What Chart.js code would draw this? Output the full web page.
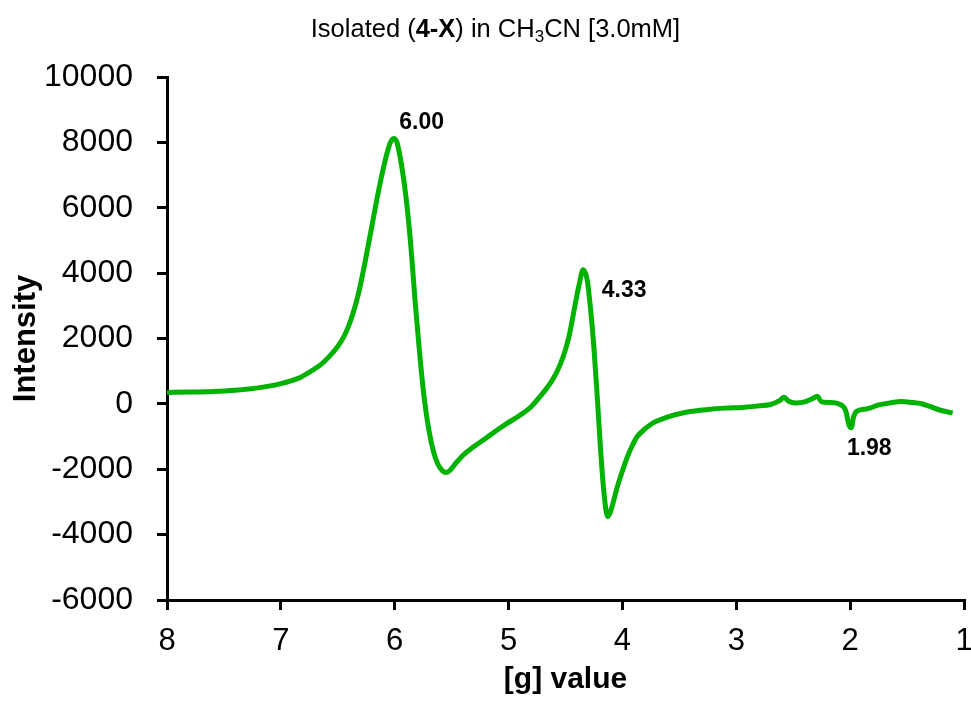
<!DOCTYPE html>
<html>
<head>
<meta charset="utf-8">
<script src="https://cdn.jsdelivr.net/npm/chart.js@4/dist/chart.umd.min.js"></script>
<style>
  html, body { margin: 0; padding: 0; background: #fff; }
  #wrap { position: relative; width: 971px; height: 702px; }
  #title {
    position: absolute; left: 10px; top: 13px; width: 971px;
    text-align: center; font-family: "Liberation Sans", Arial, sans-serif;
    font-size: 25.5px; color: #000; line-height: 30px;
  }
  #title sub { font-size: 17px; vertical-align: -5px; line-height: 0; }
  canvas { position: absolute; left: 0; top: 0; }
</style>
</head>
<body>
<div id="wrap">
  <canvas id="epr" width="971" height="702"></canvas>
  <div id="title">Isolated (<b>4-X</b>) in CH<sub>3</sub>CN [3.0mM]</div>
</div>
<script>
// g value (x) and intensity (y)
var gValues = [
  8.00, 7.80, 7.60, 7.40, 7.20, 7.00, 6.85, 6.74, 6.65, 6.58,
  6.50, 6.44, 6.38, 6.32, 6.26, 6.20, 6.14, 6.08, 6.04, 6.01,
  5.98, 5.94, 5.90, 5.86, 5.82, 5.78, 5.74, 5.70, 5.66, 5.62,
  5.58, 5.55, 5.52, 5.46, 5.40, 5.31, 5.20, 5.10, 5.01, 4.90,
  4.80, 4.73, 4.66, 4.58, 4.52, 4.47, 4.42, 4.38, 4.345, 4.31,
  4.28, 4.25, 4.22, 4.19, 4.16, 4.13, 4.11, 4.08, 4.05, 4.00,
  3.96, 3.91, 3.87, 3.80, 3.73, 3.60, 3.43, 3.25, 3.10, 2.95,
  2.80, 2.70, 2.62, 2.58, 2.54, 2.48, 2.40, 2.33, 2.29, 2.25,
  2.18, 2.10, 2.04, 2.01, 1.99, 1.97, 1.94, 1.85, 1.75, 1.65,
  1.55, 1.45, 1.38, 1.30, 1.22, 1.15, 1.10
];
var intensity = [
  350, 360, 380, 420, 490, 620, 780, 990, 1200, 1430,
  1760, 2100, 2620, 3350, 4350, 5450, 6550, 7500, 7980, 8120,
  8000, 7300, 6300, 4900, 3100, 1500, 150, -800, -1450, -1850,
  -2050, -2100, -2050, -1800, -1570, -1320, -1050, -800, -590, -350,
  -80, 200, 500, 950, 1450, 2050, 2950, 3650, 4100, 3800,
  2900, 1700, 150, -1500, -2800, -3450, -3350, -3000, -2600, -2050,
  -1650, -1250, -1000, -760, -580, -400, -250, -170, -130, -110,
  -60, -20, 100, 200, 80, 30, 60, 160, 230, 60,
  40, 0, -200, -650, -730, -400, -220, -150, -30, 30,
  70, 40, 10, -80, -180, -240, -280
];
var peakLabels = ["6.00", "4.33", "1.98"];
var peakG = [6.01, 4.345, 1.99];
var yTicks = [-6000, -4000, -2000, 0, 2000, 4000, 6000, 8000, 10000];

var FONT = '"Liberation Sans", Arial, sans-serif';
var labelOffsets = [[28, -16], [41, 21], [18, 21]];

var points = gValues.map(function (g, i) {
  return { x: g, y: intensity[i] };
});

var peakLabelPlugin = {
  id: "peakLabels",
  afterDatasetsDraw: function (chart) {
    var ctx = chart.ctx;
    var xs = chart.scales.x, ys = chart.scales.y;
    ctx.save();
    ctx.font = "bold 23px " + FONT;
    ctx.fillStyle = "#000";
    ctx.textAlign = "center";
    ctx.textBaseline = "middle";
    peakLabels.forEach(function (txt, i) {
      var best = 0;
      gValues.forEach(function (g, j) {
        if (Math.abs(g - peakG[i]) < Math.abs(gValues[best] - peakG[i])) best = j;
      });
      var px = xs.getPixelForValue(gValues[best]);
      var py = ys.getPixelForValue(intensity[best]);
      ctx.fillText(txt, px + labelOffsets[i][0], py + labelOffsets[i][1]);
    });
    ctx.restore();
  }
};

new Chart(document.getElementById("epr").getContext("2d"), {
  type: "line",
  data: {
    datasets: [{
      data: points,
      borderColor: "rgb(0,178,0)",
      borderWidth: 5,
      pointRadius: 0,
      fill: false,
      cubicInterpolationMode: "monotone"
    }]
  },
  options: {
    responsive: false,
    animation: false,
    layout: { padding: { top: 77, right: 7, left: 0, bottom: 0 } },
    plugins: { legend: { display: false }, tooltip: { enabled: false } },
    scales: {
      x: {
        type: "linear",
        reverse: true,
        min: 1,
        max: 8,
        border: { color: "#000", width: 3 },
        grid: { drawOnChartArea: false, drawTicks: true, tickLength: 10, tickColor: "#000", tickWidth: 3, lineWidth: 3 },
        ticks: { stepSize: 1, color: "#000", font: { family: FONT, size: 31 }, padding: 13, maxRotation: 0 },
        title: { display: true, text: "[g] value", color: "#000", font: { family: FONT, size: 30, weight: "bold" }, padding: { top: 0, bottom: 4 } },
        afterFit: function (s) { s.height = 102; s.paddingLeft = 0; s.paddingRight = 0; }
      },
      y: {
        min: -6000,
        max: 10000,
        border: { color: "#000", width: 3 },
        grid: { drawOnChartArea: false, drawTicks: true, tickLength: 10, tickColor: "#000", tickWidth: 3, lineWidth: 3 },
        afterBuildTicks: function (s) {
          s.ticks = yTicks.map(function (v) { return { value: v }; });
        },
        ticks: {
          color: "#000", font: { family: FONT, size: 32 }, padding: 24,
          callback: function (v) { return String(v); }
        },
        title: { display: true, text: "Intensity", color: "#000", font: { family: FONT, size: 31, weight: "bold" }, padding: { top: 8, bottom: 0 } },
        afterFit: function (s) { s.width = 167; s.paddingTop = 0; s.paddingBottom = 0; }
      }
    }
  },
  plugins: [peakLabelPlugin]
});
</script>
</body>
</html>
